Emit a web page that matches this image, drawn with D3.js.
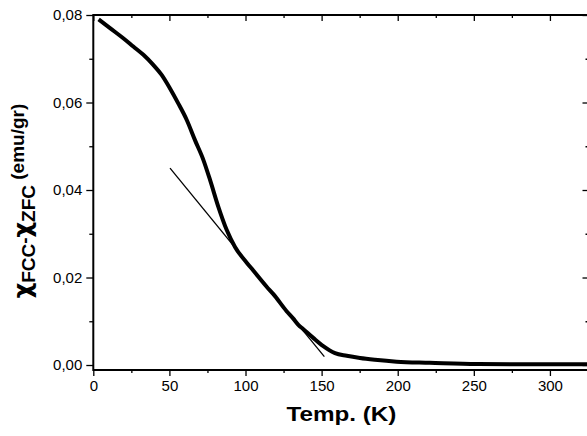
<!DOCTYPE html>
<html>
<head>
<meta charset="utf-8">
<script src="https://cdn.jsdelivr.net/npm/d3@7"></script>
<style>
  body { margin: 0; background: #fff; }
  svg { display: block; font-family: "Liberation Sans", Arial, sans-serif; }
</style>
</head>
<body>
<svg id="chart" width="587" height="436"></svg>
<script>
// values: temperature (K) and chi_FC - chi_ZFC (emu/gr)
var temps = [3.5, 11, 19.7, 26.3, 32.9, 39.4, 44.9, 50.4, 55.8, 61.4, 66.8, 72.3, 76.7, 82.1,
             87.6, 93.1, 100.8, 105.1, 113.9, 118.3, 127, 131.4, 134.7, 138, 144.5, 151.1,
             158.8, 166.5, 175.2, 185, 199.3, 221, 252, 287, 326];
var chi = [0.0790, 0.0770, 0.0747, 0.0728, 0.0709, 0.0686, 0.0663, 0.0632, 0.0598, 0.0560,
           0.0514, 0.0469, 0.0423, 0.0362, 0.0309, 0.0270, 0.0234, 0.0216, 0.0179, 0.0162,
           0.0123, 0.0106, 0.0092, 0.0082, 0.0062, 0.0043, 0.0027, 0.0021, 0.0016, 0.0012,
           0.00077, 0.00053, 0.00023, 0.00018, 0.00015];

// linear fit drawn over the transition
var fitT = [50.4, 151.8];
var fitChi = [0.045, 0.0019];

var xTicks = [0, 50, 100, 150, 200, 250, 300];
var xMinor = [25, 75, 125, 175, 225, 275, 325];
var yTicks = [0, 0.02, 0.04, 0.06, 0.08];
var yMinor = [0.01, 0.03, 0.05, 0.07];

var svg = d3.select("#chart");
var pl = 93.3, pr = 589.5, pt = 15, pb = 370;

var x = d3.scaleLinear().domain([0, 326]).range([pl, pr]);
var y = d3.scaleLinear().domain([-0.00114, 0.08]).range([pb, pt]);

var fmt = function(d) { return d3.format(".2f")(d).replace(".", ","); };

function axisLines(g) {
  g.select(".domain").remove();
  g.selectAll("line").attr("stroke", "#000").attr("stroke-width", 1.3);
  g.selectAll("text").attr("fill", "#000");
}

// bottom axis
svg.append("g").attr("transform", "translate(0," + pb + ")")
  .call(d3.axisBottom(x).tickValues(xTicks).tickSize(6).tickPadding(4).tickFormat(d3.format("d")))
  .call(axisLines)
  .selectAll("text").attr("font-size", 15);
svg.append("g").attr("transform", "translate(0," + pb + ")")
  .call(d3.axisBottom(x).tickValues(xMinor).tickSize(3).tickFormat(""))
  .call(axisLines);

// top axis, ticks inward
svg.append("g").attr("transform", "translate(0," + pt + ")")
  .call(d3.axisBottom(x).tickValues(xTicks).tickSize(6).tickFormat(""))
  .call(axisLines);
svg.append("g").attr("transform", "translate(0," + pt + ")")
  .call(d3.axisBottom(x).tickValues(xMinor).tickSize(3).tickFormat(""))
  .call(axisLines);

// left axis
svg.append("g").attr("transform", "translate(" + pl + ",0)")
  .call(d3.axisLeft(y).tickValues(yTicks).tickSize(7).tickPadding(4).tickFormat(fmt))
  .call(axisLines)
  .selectAll("text").attr("font-size", 15);
svg.append("g").attr("transform", "translate(" + pl + ",0)")
  .call(d3.axisLeft(y).tickValues(yMinor).tickSize(4).tickFormat(""))
  .call(axisLines);

// right axis, ticks inward
svg.append("g").attr("transform", "translate(" + pr + ",0)")
  .call(d3.axisLeft(y).tickValues(yTicks).tickSize(7).tickFormat(""))
  .call(axisLines);
svg.append("g").attr("transform", "translate(" + pr + ",0)")
  .call(d3.axisLeft(y).tickValues(yMinor).tickSize(4).tickFormat(""))
  .call(axisLines);

// frame
svg.append("rect")
  .attr("x", pl).attr("y", pt)
  .attr("width", pr - pl).attr("height", pb - pt)
  .attr("fill", "none").attr("stroke", "#000").attr("stroke-width", 2);

// data curve
var pts = temps.map(function(t, i) { return [t, chi[i]]; });
svg.append("path")
  .datum(pts)
  .attr("fill", "none")
  .attr("stroke", "#000")
  .attr("stroke-width", 4)
  .attr("d", d3.line().x(function(d) { return x(d[0]); }).y(function(d) { return y(d[1]); })
    .curve(d3.curveMonotoneX));

// fit line
svg.append("path")
  .datum(fitT.map(function(t, i) { return [t, fitChi[i]]; }))
  .attr("fill", "none")
  .attr("stroke", "#000")
  .attr("stroke-width", 1.3)
  .attr("d", d3.line().x(function(d) { return x(d[0]); }).y(function(d) { return y(d[1]); }));

// x label
svg.append("text")
  .attr("x", (pl + pr) / 2).attr("y", 421)
  .attr("text-anchor", "middle")
  .attr("font-size", 20).attr("font-weight", "bold")
  .attr("textLength", 110).attr("lengthAdjust", "spacingAndGlyphs")
  .text("Temp. (K)");

// y label
var yl = svg.append("text")
  .attr("transform", "translate(31,201) rotate(-90)")
  .attr("text-anchor", "middle")
  .attr("font-weight", "bold");
yl.append("tspan").attr("font-size", 24).attr("font-family", "DejaVu Sans").text("χ");
yl.append("tspan").attr("font-size", 19).attr("dy", 4).text("FCC");
yl.append("tspan").attr("font-size", 19).attr("dy", -4).text("-");
yl.append("tspan").attr("font-size", 24).attr("font-family", "DejaVu Sans").text("χ");
yl.append("tspan").attr("font-size", 19).attr("dy", 4).text("ZFC");
yl.append("tspan").attr("font-size", 19).attr("dy", -11).text(" (emu/gr)");
</script>
</body>
</html>
